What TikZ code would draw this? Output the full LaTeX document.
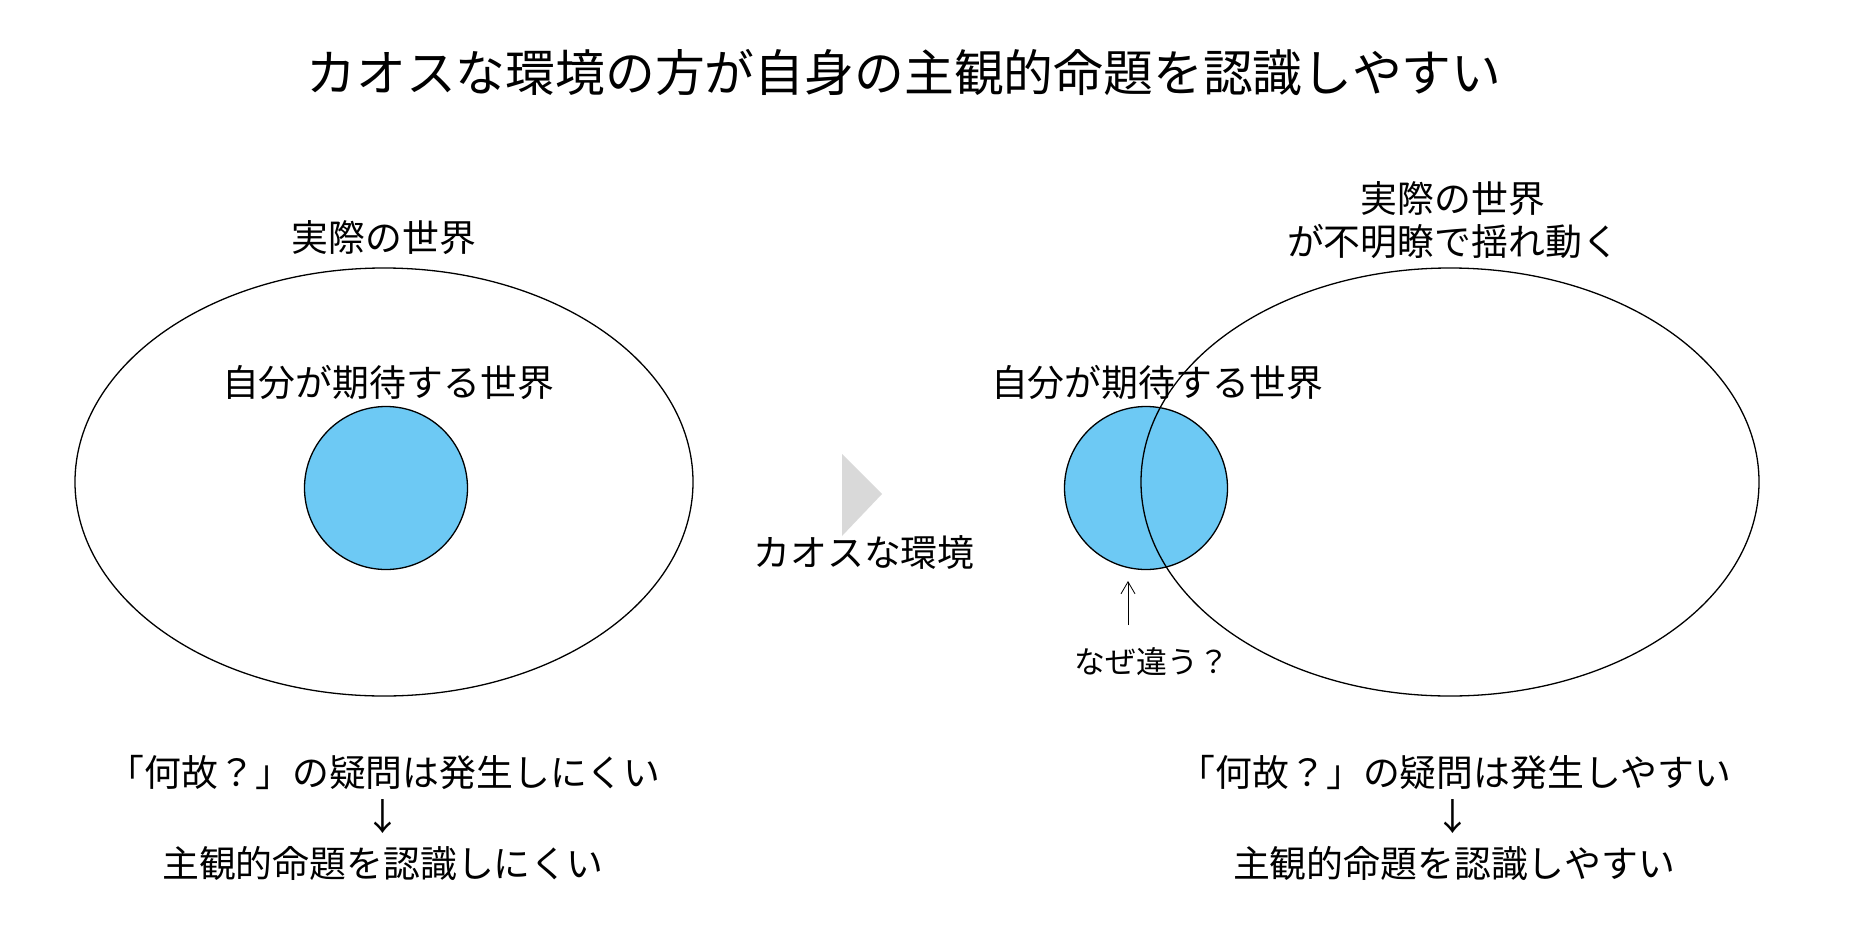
\documentclass[tikz,border=0pt]{standalone}
\usepackage{fontspec}
\setmainfont{Noto Sans CJK JP}
\usetikzlibrary{arrows.meta,shapes.geometric}
\definecolor{wishblue}{HTML}{6DC9F4}
\definecolor{chaosgray}{HTML}{D9D9D9}

\begin{document}
\begin{tikzpicture}[x=1bp,y=-1bp,>=Stealth,
    world/.style={ellipse,draw,line width=1.3bp,minimum width=618bp,minimum height=428bp,inner sep=0pt},
    wish/.style={circle,draw,line width=1.3bp,fill=wishblue,minimum size=163bp,inner sep=0pt},
    label/.style={font=\fontsize{37}{44}\selectfont,align=center,inner sep=0pt}]
    \useasboundingbox (0,0) rectangle (1872,929);

    \node (title) [font=\fontsize{50}{56}\selectfont,inner sep=0pt] at (904,73)
    {カオスな環境の方が自身の主観的命題を認識しやすい};

    % left side
    \node (realL) [world] at (384,482) {};
    \node (wishL) [wish]  at (386,488) {};
    \node (realLlbl) [label] at (384,238) {実際の世界};
    \node (wishLlbl) [label] at (388,382) {自分が期待する世界};

    % middle
    \fill[chaosgray] (842,454) -- (882,494) -- (842,536) -- cycle;
    \node (chaos) [label] at (864,553) {カオスな環境};

    % right side
    \node (wishR) [wish]  at (1146,488) {};
    \node (realR) [world] at (1450,482) {};
    \node (realRlbl) [label,font=\fontsize{37}{43}\selectfont] at (1453,220)
    {実際の世界\\が不明瞭で揺れ動く};
    \node (wishRlbl) [label] at (1157,382) {自分が期待する世界};

    \node (why) [font=\fontsize{31}{36}\selectfont,inner sep=0pt] at (1152,662) {なぜ違う？};
    \coordinate (whytail) at (1128,625);
    \coordinate (whytip)  at (1128,581);
    \draw[-{Straight Barb[length=12bp,width=14bp]},line width=0.8bp] (whytail) -- (whytip);

    % bottom
    \node (qL)   [label] at (384,772) {「何故？」の疑問は発生しにくい};
    \node (dnL)  [label] at (383,817) {↓};
    \node (resL) [label] at (383,863) {主観的命題を認識しにくい};

    \node (qR)   [label] at (1455,772) {「何故？」の疑問は発生しやすい};
    \node (dnR)  [label] at (1453,817) {↓};
    \node (resR) [label] at (1454,863) {主観的命題を認識しやすい};
  \end{tikzpicture}
\end{document}
